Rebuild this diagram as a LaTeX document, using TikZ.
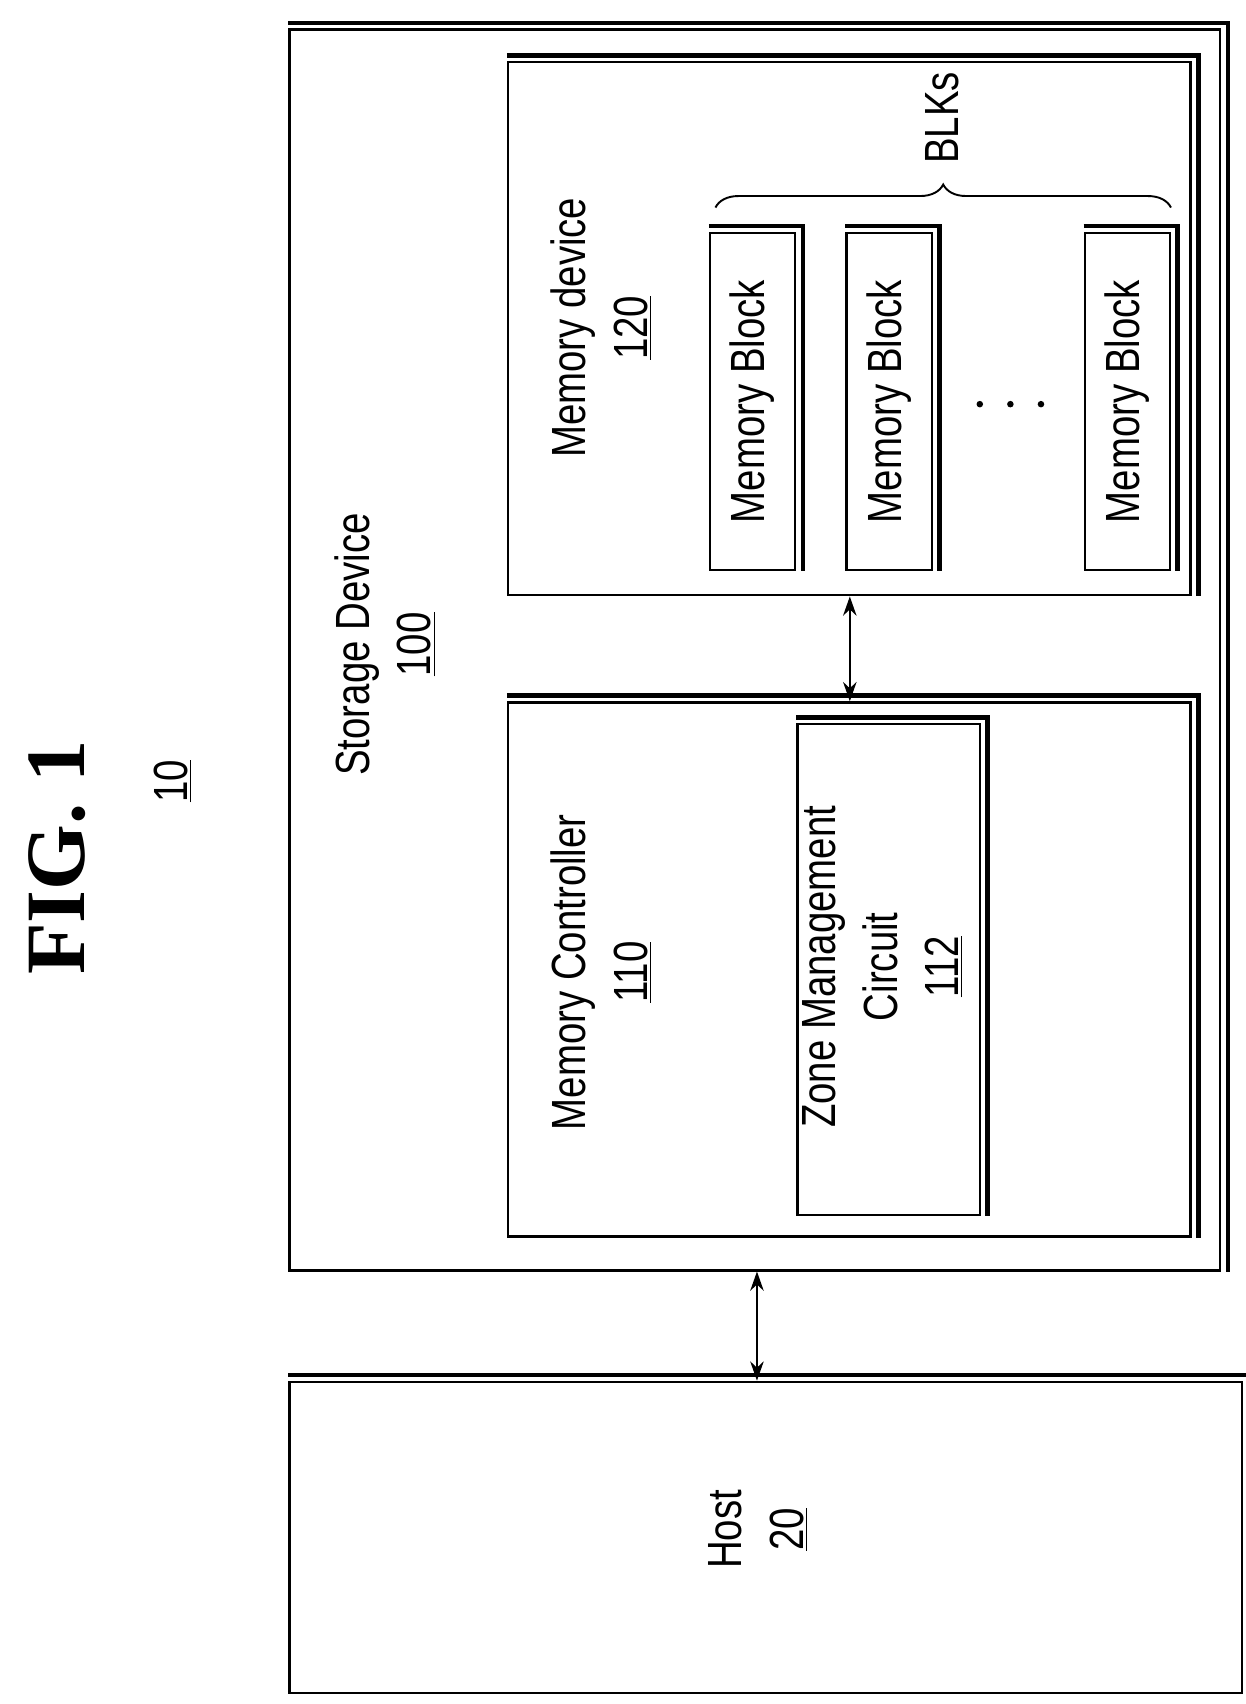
\documentclass[tikz,border=0pt]{standalone}
\usepackage{fontspec}
\setmainfont{Liberation Sans}
\newfontfamily\figfont{Liberation Serif}
\usetikzlibrary{fit,arrows.meta,decorations.pathreplacing}
\newcommand{\narrow}[1]{\scalebox{0.8}[1]{\begin{tabular}{@{}c@{}}#1\end{tabular}}}
\tikzset{
  box/.style={draw, line width=1.2pt, inner sep=0pt},
  txt/.style={rotate=90, inner sep=0pt, font=\fontsize{25}{32}\selectfont},
  link/.style={line width=1.2pt, {Stealth[length=10pt,width=7pt]}-{Stealth[length=10pt,width=7pt]}}
}
\begin{document}
\begin{tikzpicture}[x=0.02cm, y=-0.02cm]
  \useasboundingbox (0,0) rectangle (1140,1560);

  % Title
  \node [rotate=90, font=\figfont\bfseries\fontsize{44}{50}\selectfont] (fig) at (52,785) {FIG. 1};
  \node [txt] (sys) at (160,715) {\narrow{\underline{10}}};

  % Boxes
  \node [box, fit={(265,27)(1117,1163)}] (stor) {};
  \node [box, fit={(465,57)(1090,545)}] (dev) {};
  \node [box, fit={(465,643)(1090,1132)}] (ctrl) {};
  \node [box, fit={(730,663)(897,1112)}] (zone) {};
  \node [box, fit={(650,213)(728,522)}] (blkA) {};
  \node [box, fit={(775,213)(853,522)}] (blkB) {};
  \node [box, fit={(993,213)(1071,522)}] (blkC) {};
  \node [box, fit={(265,1265)(1137,1550)}] (host) {};

  % Shadow edges
  \foreach \n in {stor,dev,ctrl,zone,blkA,blkB,blkC,host}
    \draw [line width=2.4pt] ([shift={(0,-5)}]\n.north west) -- ([shift={(6,-5)}]\n.north east)
      -- ([shift={(6,0)}]\n.south east);

  % Labels
  \node [txt] at (355,590) {\narrow{Storage Device\\\underline{100}}};
  \node [txt] at (553,300) {\narrow{Memory device\\\underline{120}}};
  \node [txt] at (553,890) {\narrow{Memory Controller\\\underline{110}}};
  \node [txt] at (810,885) {\narrow{Zone Management\\Circuit\\\underline{112}}};
  \foreach \n in {blkA,blkB,blkC}
    \node [txt] at (\n.center) {\narrow{Memory Block}};
  \node [txt] at (696,1400) {\narrow{Host\\\underline{20}}};

  % Dots between blocks
  \foreach \x in {897,925,953}
    \fill (\x,370) circle (3);

  % Brace
  \coordinate (brL) at (655,190);
  \coordinate (brR) at (1072,190);
  \draw [line width=1pt, decorate, decoration={brace, amplitude=12pt}] (brL) -- (brR);
  \node [txt] (blks) at (866,108) {\narrow{BLKs}};

  % Links
  \draw [link] (dev.south -| 778,0) -- (ctrl.north -| 778,0);
  \draw [link] (stor.south -| 693,0) -- (host.north -| 693,0);
\end{tikzpicture}
\end{document}
